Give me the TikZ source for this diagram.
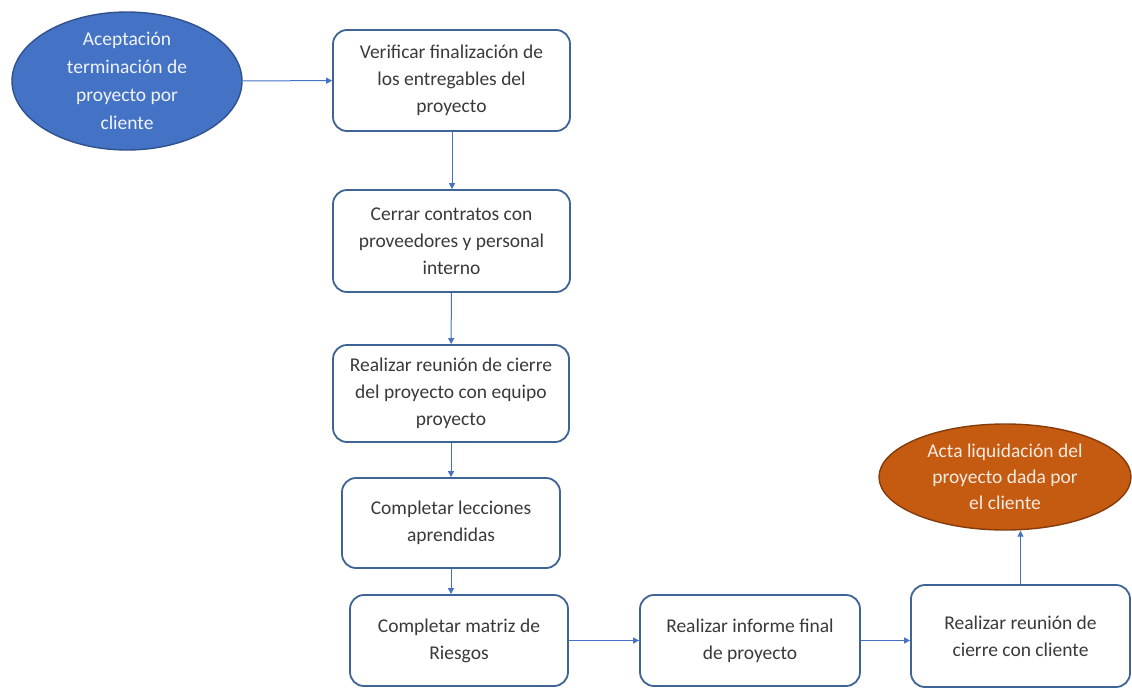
\documentclass[tikz,border=0pt]{standalone}
\usepackage{fontspec}
\setmainfont{Carlito}
\usetikzlibrary{shapes.geometric,arrows.meta}
\definecolor{boxline}{HTML}{3E6496}
\definecolor{flowline}{HTML}{4472C4}
\definecolor{txtgray}{HTML}{3A3A3A}
\definecolor{startfill}{HTML}{4472C4}
\definecolor{startline}{HTML}{2F528F}
\definecolor{endfill}{HTML}{C55A11}
\definecolor{endline}{HTML}{843C0C}
\begin{document}
\begin{tikzpicture}[x=1pt,y=-1pt,
  stepbox/.style={draw=boxline, line width=1.8pt, rounded corners=14pt, fill=white,
    align=center, text=txtgray, font=\fontsize{19.5}{27}\selectfont, inner sep=0pt},
  startoval/.style={ellipse, draw=startline, line width=1.4pt, fill=startfill,
    align=center, text=white!92!startfill, font=\fontsize{19.5}{28}\selectfont, inner sep=0pt},
  endoval/.style={ellipse, draw=endline, line width=1.4pt, fill=endfill,
    align=center, text=white!88!endfill, font=\fontsize{19.5}{26}\selectfont, inner sep=0pt},
  flow/.style={draw=flowline, line width=1pt, -{Triangle[length=6pt,width=6pt]}}]
\useasboundingbox (0,0) rectangle (1132,691);

% start and end events
\node[startoval, minimum width=230pt, minimum height=138pt] (e1) at (127,81)
  {Aceptación\\terminación de\\proyecto por\\cliente};
\node[endoval, minimum width=252pt, minimum height=106pt] (e2) at (1005,477)
  {Acta liquidación del\\proyecto dada por\\el cliente};

% process steps
\node[stepbox, minimum width=237pt, minimum height=101pt] (b1) at (451.5,80.5)
  {Verificar finalización de\\los entregables del\\proyecto};
\node[stepbox, minimum width=237pt, minimum height=102pt] (b2) at (451.5,241)
  {Cerrar contratos con\\proveedores y personal\\interno};
\node[stepbox, minimum width=236pt, minimum height=97pt] (b3) at (451,393.5)
  {Realizar reunión de cierre\\del proyecto con equipo\\proyecto};
\node[stepbox, minimum width=218pt, minimum height=90pt] (b4) at (451,523)
  {Completar lecciones\\aprendidas};
\node[stepbox, minimum width=218pt, minimum height=91pt] (b5) at (459,640.5)
  {Completar matriz de\\Riesgos};
\node[stepbox, minimum width=220pt, minimum height=91pt] (b6) at (750,640.5)
  {Realizar informe final\\de proyecto};
\node[stepbox, minimum width=219pt, minimum height=102pt] (b7) at (1020.5,636)
  {Realizar reunión de\\cierre con cliente};

% connectors
\draw[flow] (e1) -- (b1);
\draw[flow] (b1.south -| 452,0) -- (b2.north -| 452,0);
\draw[flow] (b2) -- (b3);
\draw[flow] (b3) -- (b4);
\draw[flow] (b4.south) -- (b4.south |- b5.north);
\draw[flow] (b5) -- (b6);
\draw[flow] (b6.east) -- (b6.east -| b7.west);
\draw[flow] (b7.north) -- (b7.north |- e2.south);
\end{tikzpicture}
\end{document}
